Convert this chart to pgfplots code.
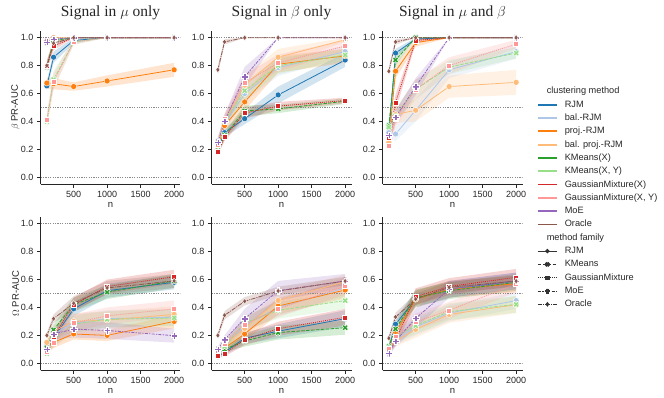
\documentclass[border=0pt]{standalone}
\usepackage{pgfplots}
\pgfplotsset{compat=1.18}
\usepackage{pgfplotstable}
\usepgfplotslibrary{fillbetween}
\usepackage{fontspec}
\setmainfont{Liberation Sans}
\newfontfamily\serif{Liberation Serif}

\definecolor{cA}{HTML}{1F77B4}
\definecolor{cB}{HTML}{AEC7E8}
\definecolor{cC}{HTML}{FF7F0E}
\definecolor{cD}{HTML}{FFBB78}
\definecolor{cE}{HTML}{2CA02C}
\definecolor{cF}{HTML}{98DF8A}
\definecolor{cG}{HTML}{D62728}
\definecolor{cH}{HTML}{FF9896}
\definecolor{cI}{HTML}{9467BD}
\definecolor{cJ}{HTML}{8C564B}
\definecolor{c15}{HTML}{262626}
\definecolor{c33}{HTML}{333333}
\definecolor{cref}{HTML}{8A8A8A}

\pgfdeclareplotmark{Pf}{%
 \pgfpathmoveto{\pgfpoint{0.36\pgfplotmarksize}{\pgfplotmarksize}}%
 \pgfpathlineto{\pgfpoint{0.36\pgfplotmarksize}{0.36\pgfplotmarksize}}%
 \pgfpathlineto{\pgfpoint{\pgfplotmarksize}{0.36\pgfplotmarksize}}%
 \pgfpathlineto{\pgfpoint{\pgfplotmarksize}{-0.36\pgfplotmarksize}}%
 \pgfpathlineto{\pgfpoint{0.36\pgfplotmarksize}{-0.36\pgfplotmarksize}}%
 \pgfpathlineto{\pgfpoint{0.36\pgfplotmarksize}{-\pgfplotmarksize}}%
 \pgfpathlineto{\pgfpoint{-0.36\pgfplotmarksize}{-\pgfplotmarksize}}%
 \pgfpathlineto{\pgfpoint{-0.36\pgfplotmarksize}{-0.36\pgfplotmarksize}}%
 \pgfpathlineto{\pgfpoint{-\pgfplotmarksize}{-0.36\pgfplotmarksize}}%
 \pgfpathlineto{\pgfpoint{-\pgfplotmarksize}{0.36\pgfplotmarksize}}%
 \pgfpathlineto{\pgfpoint{-0.36\pgfplotmarksize}{0.36\pgfplotmarksize}}%
 \pgfpathlineto{\pgfpoint{-0.36\pgfplotmarksize}{\pgfplotmarksize}}%
 \pgfpathclose\pgfusepathqfillstroke}
\pgfdeclareplotmark{Xf}{\pgftransformrotate{45}\pgfuseplotmark{Pf}}

\pgfplotsset{
 fRJM/.style={solid, mark=*, mark size=3pt},
 fKM/.style={dash pattern=on 3.5pt off 1.4pt, mark=Xf, mark size=3.2pt},
 fGM/.style={dash pattern=on 1pt off 1pt, mark=square*, mark size=2.5pt},
 fMoE/.style={dash pattern=on 3pt off 1.2pt on 1.4pt off 1.2pt, mark=Pf, mark size=3.2pt},
 fOr/.style={dash pattern=on 4.5pt off 1pt on 1pt off 1pt, mark=diamond*, mark size=2.8pt},
 panel/.style={scale only axis, width=140pt, height=153.6pt,
  xmin=5, xmax=2095, ymin=-0.05, ymax=1.05,
  axis x line*=bottom, axis y line*=left, tick align=outside,
  major tick length=3.5pt,
  xtick={500,1000,1500,2000}, ytick={0,0.2,0.4,0.6,0.8,1.0},
  /pgf/number format/assume math mode=true,
  xticklabel style={/pgf/number format/1000 sep={}},
  yticklabel style={/pgf/number format/.cd, fixed, fixed zerofill, precision=1},
  ticklabel style={font=\fontsize{9}{10}\selectfont, text=c15},
  axis line style={c15, line width=0.8pt},
  major tick style={c15, line width=0.8pt},
  xlabel={n},
  xlabel style={at={(axis description cs:0.5,0)}, anchor=base, yshift=-23.5pt, font=\fontsize{9.5}{10}\selectfont, text=c15},
  ylabel style={at={(axis description cs:-0.1786,0.5)}, anchor=center, font=\fontsize{9.5}{10}\selectfont, text=c15},
  title style={at={(axis description cs:0.5,1)}, anchor=base, yshift=8pt, font=\serif\fontsize{15.5}{16}\selectfont, text=c15},
  clip=true,
 },
}

\newcommand{\ser}[4]{%
 \addplot[draw=none, forget plot, name path=l#2] table[x=n, y expr=\thisrow{#2}-\thisrow{#2e}] {#1};
 \addplot[draw=none, forget plot, name path=u#2] table[x=n, y expr=\thisrow{#2}+\thisrow{#2e}] {#1};
 \addplot[fill=#3, fill opacity=0.2, draw=none, forget plot] fill between[of=l#2 and u#2];
 \addplot[color=#3, line width=0.8pt, #4, forget plot, mark options={solid, draw=white, fill=#3, line width=0.4pt}] table[x=n, y=#2] {#1};
}
\newcommand{\refl}{%
 \addplot[cref, line width=0.5pt, dash pattern=on 1.3pt off 1.1pt, forget plot] coordinates {(5,0) (2095,0)};
 \addplot[cref, line width=0.5pt, dash pattern=on 1.3pt off 1.1pt, forget plot] coordinates {(5,0.5) (2095,0.5)};
 \addplot[cref, line width=0.5pt, dash pattern=on 1.3pt off 1.1pt, forget plot] coordinates {(5,1) (2095,1)};
}
\newcommand{\allser}[1]{%
 \ser{#1}{A}{cA}{fRJM}
 \ser{#1}{B}{cB}{fRJM}
 \ser{#1}{C}{cC}{fRJM}
 \ser{#1}{D}{cD}{fRJM}
 \ser{#1}{E}{cE}{fKM}
 \ser{#1}{F}{cF}{fKM}
 \ser{#1}{G}{cG}{fGM}
 \ser{#1}{H}{cH}{fGM}
 \ser{#1}{I}{cI}{fMoE}
 \ser{#1}{J}{cJ}{fOr}
}

% columns: n, RJM, bal.-RJM, proj.-RJM, bal. proj.-RJM, KMeans(X), KMeans(X,Y), GM(X), GM(X,Y), MoE, Oracle (value, half band)
\pgfplotstableread{
n    A    Ae   B    Be   C    Ce   D    De   E    Ee   F    Fe   G    Ge   H    He   I    Ie   J    Je
100  0.655 0.03 0.96 0.03 0.675 0.04 0.975 0.02 0.79 0.04 0.40 0.05 0.80 0.04 0.41 0.05 0.97 0.02 0.80 0.03
200  0.86 0.04 0.99 0.01 0.67 0.04 1.0 0.0 0.98 0.02 0.70 0.06 0.94 0.03 0.685 0.06 0.99 0.01 0.96 0.02
500  0.98 0.02 1.0 0.0 0.65 0.03 1.0 0.0 1.0 0.0 0.97 0.02 1.0 0.0 0.97 0.02 1.0 0.0 1.0 0.0
1000 1.0 0.0 1.0 0.0 0.69 0.04 1.0 0.0 1.0 0.0 1.0 0.0 1.0 0.0 1.0 0.0 1.0 0.0 1.0 0.0
2000 1.0 0.0 1.0 0.0 0.77 0.05 1.0 0.0 1.0 0.0 1.0 0.0 1.0 0.0 1.0 0.0 1.0 0.0 1.0 0.0
}\pA
\pgfplotstableread{
n    A    Ae   B    Be   C    Ce   D    De   E    Ee   F    Fe   G    Ge   H    He   I    Ie   J    Je
100  0.20 0.03 0.26 0.03 0.21 0.03 0.25 0.03 0.19 0.03 0.24 0.03 0.18 0.02 0.23 0.03 0.25 0.04 0.77 0.03
200  0.32 0.03 0.38 0.04 0.37 0.04 0.40 0.04 0.30 0.03 0.40 0.04 0.29 0.03 0.42 0.04 0.40 0.05 0.97 0.02
500  0.42 0.04 0.60 0.06 0.54 0.06 0.66 0.07 0.475 0.04 0.62 0.06 0.46 0.04 0.675 0.06 0.72 0.07 1.0 0.0
1000 0.59 0.06 0.785 0.06 0.81 0.06 0.86 0.06 0.49 0.03 0.80 0.06 0.51 0.03 0.82 0.06 1.0 0.0 1.0 0.0
2000 0.84 0.05 0.90 0.04 0.87 0.05 0.985 0.015 0.545 0.02 0.876 0.04 0.55 0.02 0.94 0.04 1.0 0.0 1.0 0.0
}\pB
\pgfplotstableread{
n    A    Ae   B    Be   C    Ce   D    De   E    Ee   F    Fe   G    Ge   H    He   I    Ie   J    Je
100  0.32 0.04 0.32 0.04 0.26 0.03 0.25 0.03 0.37 0.04 0.36 0.04 0.285 0.03 0.225 0.03 0.30 0.04 0.76 0.03
200  0.89 0.03 0.31 0.05 0.76 0.05 0.45 0.06 0.84 0.04 0.44 0.05 0.535 0.06 0.42 0.06 0.43 0.05 0.97 0.02
500  0.99 0.01 0.48 0.08 0.965 0.03 0.48 0.08 1.0 0.0 0.63 0.07 0.98 0.02 0.63 0.07 0.65 0.06 1.0 0.0
1000 1.0 0.0 0.77 0.06 1.0 0.0 0.65 0.08 1.0 0.0 0.79 0.05 1.0 0.0 0.80 0.06 1.0 0.0 1.0 0.0
2000 1.0 0.0 0.90 0.05 1.0 0.0 0.68 0.09 1.0 0.0 0.89 0.04 1.0 0.0 0.955 0.03 1.0 0.0 1.0 0.0
}\pC
\pgfplotstableread{
n    A    Ae   B    Be   C    Ce   D    De   E    Ee   F    Fe   G    Ge   H    He   I    Ie   J    Je
100  0.11 0.03 0.13 0.03 0.11 0.03 0.15 0.03 0.11 0.03 0.07 0.02 0.09 0.02 0.085 0.02 0.10 0.03 0.20 0.02
200  0.18 0.04 0.21 0.04 0.15 0.04 0.23 0.04 0.24 0.04 0.16 0.04 0.19 0.04 0.15 0.04 0.21 0.04 0.32 0.03
500  0.39 0.05 0.29 0.06 0.21 0.04 0.30 0.06 0.42 0.05 0.28 0.06 0.42 0.05 0.29 0.06 0.245 0.06 0.43 0.05
1000 0.52 0.05 0.32 0.06 0.20 0.04 0.31 0.06 0.51 0.05 0.315 0.06 0.55 0.05 0.34 0.06 0.235 0.06 0.54 0.05
2000 0.58 0.05 0.33 0.06 0.30 0.05 0.35 0.06 0.59 0.05 0.325 0.06 0.62 0.05 0.39 0.06 0.198 0.05 0.59 0.05
}\pD
\pgfplotstableread{
n    A    Ae   B    Be   C    Ce   D    De   E    Ee   F    Fe   G    Ge   H    He   I    Ie   J    Je
100  0.05 0.02 0.07 0.02 0.07 0.02 0.08 0.02 0.06 0.02 0.08 0.02 0.057 0.02 0.09 0.02 0.10 0.02 0.20 0.02
200  0.08 0.02 0.12 0.03 0.11 0.03 0.13 0.03 0.10 0.02 0.12 0.03 0.07 0.02 0.14 0.03 0.17 0.03 0.344 0.03
500  0.18 0.04 0.27 0.05 0.21 0.05 0.25 0.05 0.16 0.04 0.29 0.05 0.17 0.04 0.28 0.05 0.32 0.07 0.444 0.03
1000 0.23 0.05 0.40 0.06 0.41 0.06 0.45 0.06 0.22 0.05 0.38 0.06 0.248 0.05 0.39 0.06 0.52 0.07 0.518 0.03
2000 0.32 0.06 0.54 0.06 0.525 0.06 0.585 0.05 0.255 0.05 0.449 0.06 0.33 0.06 0.553 0.06 0.59 0.05 0.589 0.03
}\pE
\pgfplotstableread{
n    A    Ae   B    Be   C    Ce   D    De   E    Ee   F    Fe   G    Ge   H    He   I    Ie   J    Je
100  0.11 0.03 0.08 0.02 0.10 0.03 0.09 0.02 0.12 0.03 0.11 0.03 0.085 0.02 0.103 0.02 0.07 0.02 0.18 0.02
200  0.28 0.04 0.17 0.04 0.22 0.04 0.16 0.04 0.246 0.04 0.19 0.04 0.17 0.04 0.19 0.04 0.16 0.04 0.332 0.03
500  0.46 0.06 0.26 0.06 0.46 0.06 0.243 0.06 0.47 0.06 0.27 0.06 0.477 0.06 0.296 0.06 0.322 0.07 0.46 0.04
1000 0.53 0.06 0.36 0.06 0.53 0.06 0.35 0.06 0.52 0.06 0.37 0.06 0.55 0.06 0.38 0.06 0.53 0.06 0.544 0.04
2000 0.59 0.06 0.449 0.06 0.57 0.06 0.42 0.06 0.58 0.06 0.422 0.06 0.616 0.06 0.568 0.06 0.59 0.06 0.589 0.04
}\pF

\begin{document}
\begin{tikzpicture}

\begin{axis}[panel, at={(40.5pt,211.7pt)}, anchor=south west, title={Signal in $\mu$ only}, ylabel={$\beta$ PR-AUC}]
\refl
\allser{\pA}
\end{axis}

\begin{axis}[panel, at={(211.5pt,211.7pt)}, anchor=south west, title={Signal in $\beta$ only}]
\refl
\allser{\pB}
\end{axis}

\begin{axis}[panel, at={(382.5pt,211.7pt)}, anchor=south west, title={Signal in $\mu$ and $\beta$},
 legend style={at={(axis description cs:1.1036,0.6335)}, anchor=north west, draw=none, fill=none,
  inner sep=0pt, outer sep=0pt, row sep=4.3pt, column sep=7pt,
  font=\fontsize{9.2}{10}\selectfont, text=c15,
  nodes={inner sep=0pt, text height=7pt, text depth=2pt}},
 legend cell align=left,
 legend image code/.code={\draw[mark repeat=2, mark phase=2, #1] plot coordinates {(0pt,0pt) (9.5pt,0pt) (19pt,0pt)};},
]
\refl
\allser{\pC}
\addlegendimage{empty legend}\addlegendentry{\hspace*{-18pt}clustering method}
\addlegendimage{draw=cA, line width=1.8pt, mark=none}\addlegendentry{RJM}
\addlegendimage{draw=cB, line width=1.8pt, mark=none}\addlegendentry{bal.-RJM}
\addlegendimage{draw=cC, line width=1.8pt, mark=none}\addlegendentry{proj.-RJM}
\addlegendimage{draw=cD, line width=1.8pt, mark=none}\addlegendentry{bal. proj.-RJM}
\addlegendimage{draw=cE, line width=1.8pt, mark=none}\addlegendentry{KMeans(X)}
\addlegendimage{draw=cF, line width=1.8pt, mark=none}\addlegendentry{KMeans(X, Y)}
\addlegendimage{draw=cG, line width=1.8pt, mark=none}\addlegendentry{GaussianMixture(X)}
\addlegendimage{draw=cH, line width=1.8pt, mark=none}\addlegendentry{GaussianMixture(X, Y)}
\addlegendimage{draw=cI, line width=1.8pt, mark=none}\addlegendentry{MoE}
\addlegendimage{draw=cJ, line width=1.8pt, mark=none}\addlegendentry{Oracle}
\addlegendimage{empty legend}\addlegendentry{\hspace*{-18pt}method family}
\addlegendimage{c33, line width=0.8pt, fRJM, mark size=1.8pt, mark options={solid, fill=c33, draw=c33}}\addlegendentry{RJM}
\addlegendimage{c33, line width=0.8pt, fKM, mark size=2pt, mark options={solid, fill=c33, draw=c33}}\addlegendentry{KMeans}
\addlegendimage{c33, line width=0.8pt, fGM, mark size=1.6pt, mark options={solid, fill=c33, draw=c33}}\addlegendentry{GaussianMixture}
\addlegendimage{c33, line width=0.8pt, fMoE, mark size=2pt, mark options={solid, fill=c33, draw=c33}}\addlegendentry{MoE}
\addlegendimage{c33, line width=0.8pt, fOr, mark size=1.8pt, mark options={solid, fill=c33, draw=c33}}\addlegendentry{Oracle}
\end{axis}

\begin{axis}[panel, at={(40.5pt,25.7pt)}, anchor=south west, ylabel={$\Omega$ PR-AUC}]
\refl
\allser{\pD}
\end{axis}

\begin{axis}[panel, at={(211.5pt,25.7pt)}, anchor=south west]
\refl
\allser{\pE}
\end{axis}

\begin{axis}[panel, at={(382.5pt,25.7pt)}, anchor=south west]
\refl
\allser{\pF}
\end{axis}
\path (0pt,0pt) rectangle (664pt,396pt);
\end{tikzpicture}
\end{document}
